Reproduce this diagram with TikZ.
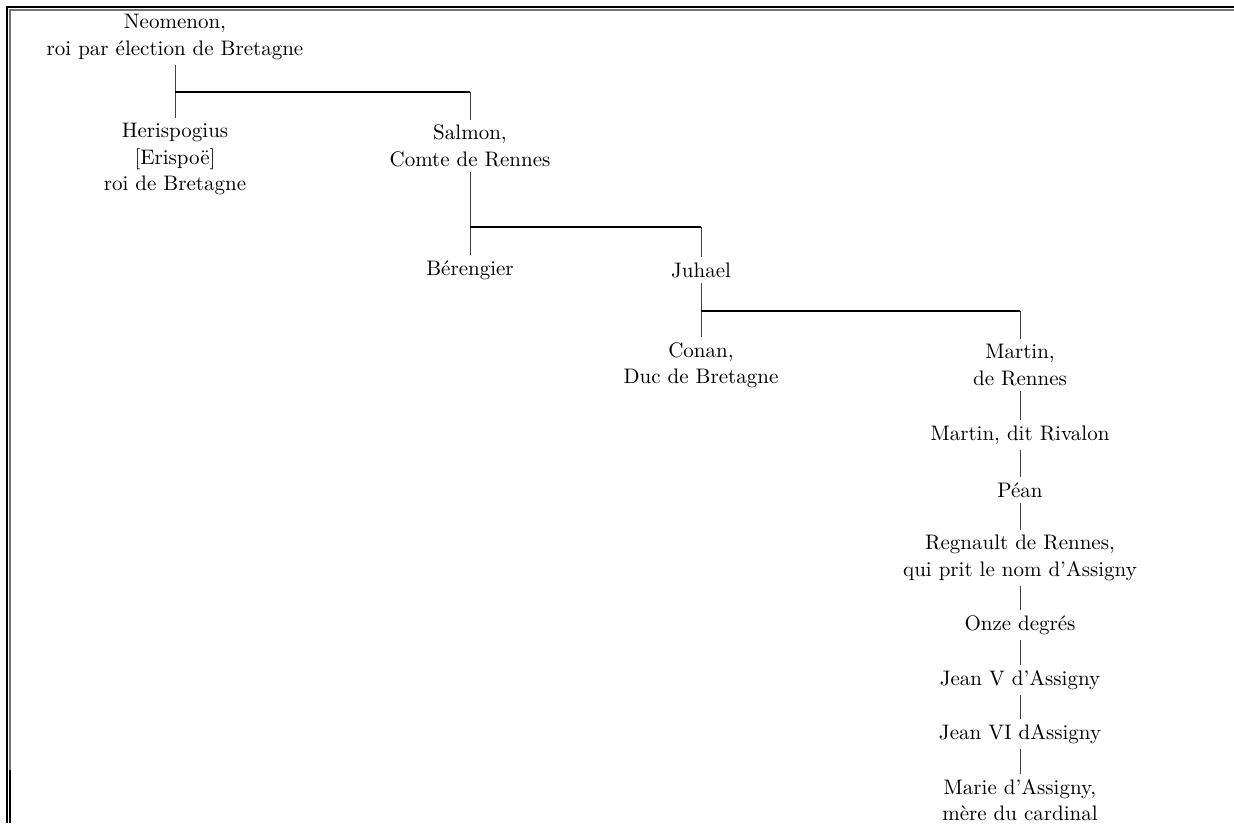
\documentclass[tikz,border=0pt]{standalone}
\begin{document}
\begin{tikzpicture}[x=0.5pt,y=-0.5pt,
  person/.style={align=center,inner xsep=0pt,inner ysep=2.6pt,font=\fontsize{10.5}{13.2}\selectfont},
  stem/.style={line width=0.5pt,draw=black!75},
  bar/.style={line width=0.8pt,draw=black}]
\useasboundingbox (0,0) rectangle (1234,823);
% frame
\draw[line width=1pt] (7,823) -- (7,7) -- (1234,7);
\draw[line width=0.6pt, black!55] (10,823) -- (10,10) -- (1234,10);
\draw[line width=1pt] (10,770) -- (10,823);
% people
\node[person] (neo) at (175,37) {Neomenon,\\roi par élection de Bretagne};
\node[person] (her) at (175,159) {Herispogius\\{[Erispoë]}\\roi de Bretagne};
\node[person] (sal) at (470,146) {Salmon,\\Comte de Rennes};
\node[person] (ber) at (470,270) {Bérengier};
\node[person] (juh) at (701,270) {Juhael};
\node[person] (con) at (701,365) {Conan,\\Duc de Bretagne};
\node[person] (mar) at (1020,365) {Martin,\\de Rennes};
\node[person] (riv) at (1020,435) {Martin, dit Rivalon};
\node[person] (pean) at (1020,490) {Péan};
\node[person] (reg) at (1020,558) {Regnault de Rennes,\\qui prit le nom d’Assigny};
\node[person] (onze) at (1020,625) {Onze degrés};
\node[person] (jv) at (1020,680) {Jean V d’Assigny};
\node[person] (jvi) at (1020,734) {Jean VI dAssigny};
\node[person] (marie) at (1020,800) {Marie d’Assigny,\\mère du cardinal};
% connectors
\coordinate (b1) at (0,92);
\coordinate (b2) at (0,227);
\coordinate (b3) at (0,311);
\draw[stem] (neo.south) -- (her.north);
\draw[bar] (neo.south |- b1) -- (sal.north |- b1);
\draw[stem] (sal.north |- b1) -- (sal.north);
\draw[stem] (sal.south) -- (ber.north);
\draw[bar] (sal.south |- b2) -- (juh.north |- b2);
\draw[stem] (juh.north |- b2) -- (juh.north);
\draw[stem] (juh.south) -- (con.north);
\draw[bar] (juh.south |- b3) -- (mar.north |- b3);
\draw[stem] (mar.north |- b3) -- (mar.north);
\draw[stem] (mar.south) -- (riv.north);
\draw[stem] (riv.south) -- (pean.north);
\draw[stem] (pean.south) -- (reg.north);
\draw[stem] (reg.south) -- (onze.north);
\draw[stem] (onze.south) -- (jv.north);
\draw[stem] (jv.south) -- (jvi.north);
\draw[stem] (jvi.south) -- (marie.north);
\end{tikzpicture}
\end{document}
